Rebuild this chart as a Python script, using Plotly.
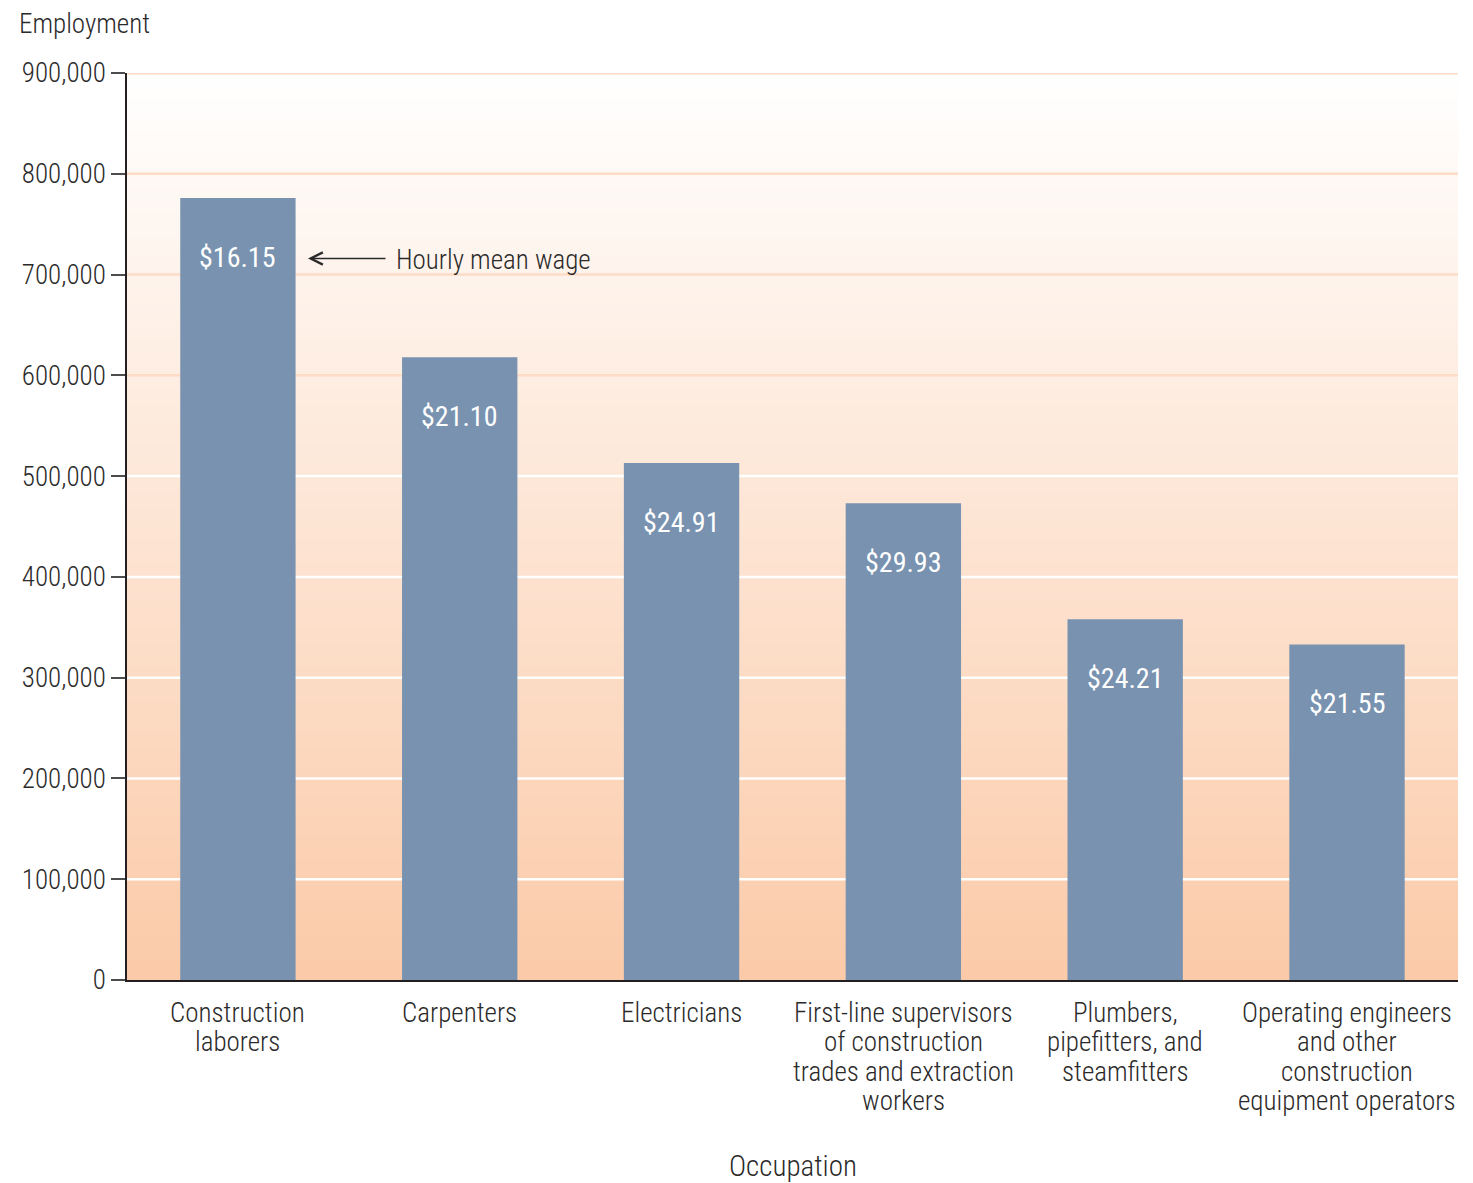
import plotly.graph_objects as go

# occupations, employment counts and hourly mean wages
occupations = [
    "Construction<br>laborers",
    "Carpenters",
    "Electricians",
    "First-line supervisors<br>of construction<br>trades and extraction<br>workers",
    "Plumbers,<br>pipefitters, and<br>steamfitters",
    "Operating engineers<br>and other<br>construction<br>equipment operators",
]
employment = [776000, 618000, 513000, 473000, 358000, 333000]
wages = ["$16.15", "$21.10", "$24.91", "$29.93", "$24.21", "$21.55"]

y_ticks = [0, 100000, 200000, 300000, 400000, 500000, 600000, 700000, 800000, 900000]

FONT = "Roboto Condensed, DejaVu Sans Condensed, sans-serif"
TXT = "#2b2a2a"
BAR = "#7892b0"
W = 300  # light face

fig = go.Figure()

fig.add_trace(go.Bar(x=occupations, y=employment, width=0.52,
                     marker=dict(color=BAR, line=dict(width=0)),
                     hoverinfo="skip", showlegend=False))

# gradient background: white at top to peach at the bottom, in overlapping bands
shapes = []
top_col = (255, 255, 255)
bot_col = (251, 202, 168)
n = 150
ymax = y_ticks[-1]
for i in range(n):
    y0 = ymax * i / n
    y1 = min(ymax, ymax * (i + 1.6) / n)
    t = (i + 0.5) / n
    c = tuple(round(bot_col[k] + (top_col[k] - bot_col[k]) * t) for k in range(3))
    shapes.append(dict(type="rect", xref="paper", yref="y", x0=0, x1=1, y0=y0, y1=y1,
                       fillcolor="rgb(%d,%d,%d)" % c, line=dict(width=0), layer="below"))

# gridlines: peach in the light upper part, white in the darker lower part
for v in y_ticks[1:]:
    col = "#fddcc6" if v >= 600000 else "#ffffff"
    shapes.append(dict(type="line", xref="paper", yref="y", x0=0, x1=1, y0=v, y1=v,
                       line=dict(color=col, width=3 if v == ymax else 2.5), layer="below"))

annotations = []
# wage labels inside the bars
for occ, val, w in zip(occupations, employment, wages):
    annotations.append(dict(x=occ, y=val, xref="x", yref="y", text=w, showarrow=False,
                            yanchor="top", yshift=-41,
                            font=dict(family=FONT, size=28, color="white", weight=400)))

# category labels, one line per annotation for tight line spacing
for occ in occupations:
    for j, line in enumerate(occ.split("<br>")):
        annotations.append(dict(x=occ, y=0, xref="x", yref="paper", text=line, showarrow=False,
                                yanchor="middle", yshift=-33 - 29.3 * j,
                                font=dict(family=FONT, size=27, color=TXT, weight=W)))

# pointer to the first wage label
annotations.append(dict(x=0.316, y=716000, xref="x", yref="y", ax=0.672, ay=716000,
                        axref="x", ayref="y", text="", showarrow=True,
                        arrowhead=5, arrowsize=1.5, arrowwidth=1.6, arrowcolor=TXT))
annotations.append(dict(x=0.705, y=714000, xref="x", yref="y", text="Hourly mean wage",
                        showarrow=False, xanchor="left", yanchor="middle",
                        font=dict(family=FONT, size=27, color=TXT, weight=W)))
annotations.append(dict(x=0, y=1, xref="paper", yref="paper", text="Employment",
                        showarrow=False, xanchor="left", yanchor="middle", xshift=-110, yshift=49,
                        font=dict(family=FONT, size=27, color=TXT, weight=W)))
annotations.append(dict(x=0.5, y=0, xref="paper", yref="paper", text="Occupation",
                        showarrow=False, xanchor="center", yanchor="middle", yshift=-186,
                        font=dict(family=FONT, size=29, color=TXT, weight=W)))

fig.update_layout(
    width=1465, height=1175,
    margin=dict(l=119, r=15, t=65, b=203),
    paper_bgcolor="white", plot_bgcolor="white",
    font=dict(family=FONT, size=27, color=TXT, weight=W),
    shapes=shapes, annotations=annotations,
    xaxis=dict(showgrid=False, showline=True, linecolor="#231f20", linewidth=1.5,
               ticks="", showticklabels=False, zeroline=False),
    yaxis=dict(range=[0, 900000], tickvals=y_ticks, tickformat=",",
               showgrid=False, zeroline=False, showline=True, linecolor="#231f20", linewidth=1.5,
               ticks="outside", ticklen=14, tickcolor="#4d4d4d", tickwidth=1.5,
               tickfont=dict(family=FONT, size=27, color=TXT, weight=W)),
)

fig.write_html("out.html")
